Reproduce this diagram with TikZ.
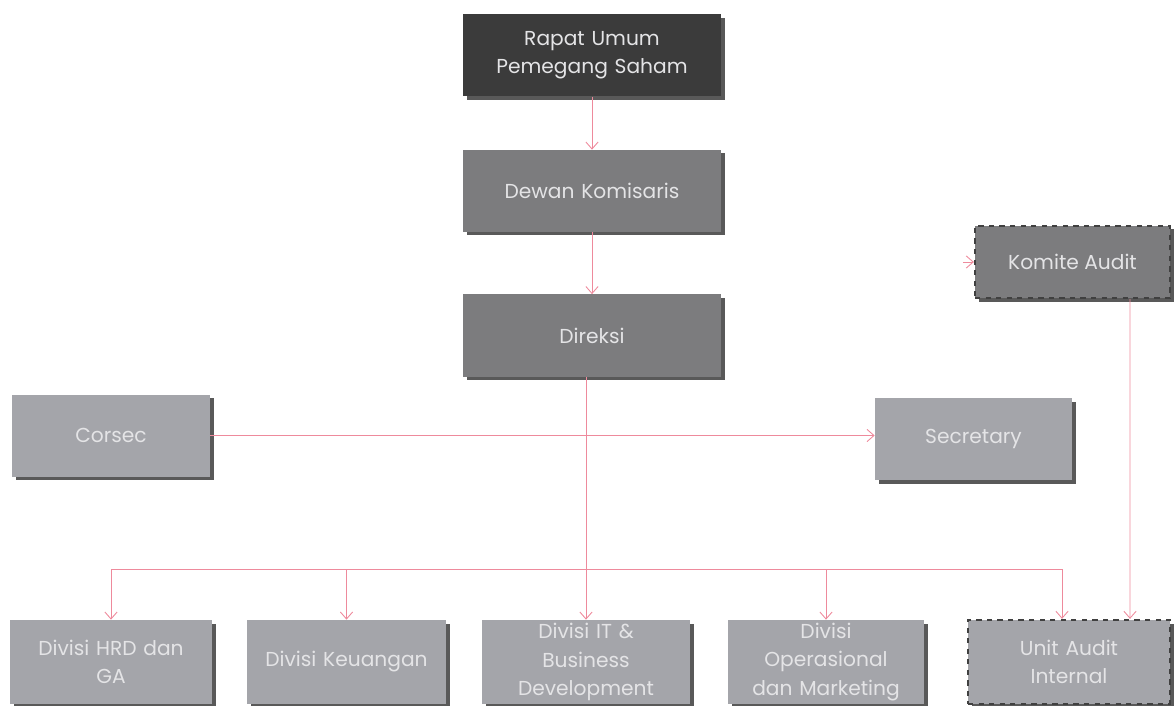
\documentclass[tikz,border=0pt]{standalone}
\usepackage{fontspec}
\setmainfont{Poppins}
\usetikzlibrary{shadows,arrows.meta}

\definecolor{rupsgray}{HTML}{3B3B3B}
\definecolor{midgray}{HTML}{7C7C7E}
\definecolor{lightgray}{HTML}{A4A5AA}
\definecolor{linkpink}{HTML}{EE8A9C}
\definecolor{labelwhite}{HTML}{E4E4E6}

\tikzset{
  >={Straight Barb[length=4pt,width=7pt]},
  unit/.style={inner sep=0pt, align=center, text=labelwhite,
    font=\fontsize{11.5}{16}\selectfont,
    drop shadow={shadow xshift=0.07cm, shadow yshift=-0.07cm, opacity=1, fill=black!65}},
  topbox/.style={unit, fill=midgray, minimum width=5.16cm, minimum height=1.64cm, text width=4.9cm},
  sidebox/.style={unit, fill=lightgray, minimum height=1.64cm},
  divbox/.style={unit, fill=lightgray, minimum height=1.68cm},
  auditbox/.style={draw=black!75, dashed, line width=1.3pt},
  link/.style={draw=linkpink, line width=0.5pt}
}

\begin{document}
\begin{tikzpicture}
  \useasboundingbox (0,0) rectangle (23.52,-14.12);

  % top of the structure
  \node[topbox, fill=rupsgray] (rups) at (11.84,-1.11) {Rapat Umum\\Pemegang Saham};
  \node[topbox] (dewan) at (11.84,-3.82) {Dewan Komisaris};
  \node[topbox] (direksi) at (11.84,-6.71) {Direksi};
  \node[unit, auditbox, fill=midgray, minimum width=3.9cm, minimum height=1.44cm] (komite) at (21.45,-5.24) {Komite Audit};

  % staff
  \node[sidebox, minimum width=3.96cm] (corsec) at (2.22,-8.71) {Corsec};
  \node[sidebox, minimum width=3.94cm] (secretary) at (19.47,-8.78) {Secretary};

  % divisions
  \node[divbox, minimum width=4.04cm, text width=3.7cm] (hrd) at (2.22,-13.24) {Divisi HRD dan\\GA};
  \node[divbox, minimum width=3.98cm, text width=3.8cm] (keuangan) at (6.93,-13.24) {Divisi Keuangan};
  \node[divbox, minimum width=4.16cm, text width=3.9cm] (it) at (11.72,-13.24) {Divisi IT \&\\Business\\Development};
  \node[divbox, minimum width=3.92cm, text width=3.8cm] (ops) at (16.52,-13.24) {Divisi\\Operasional\\dan Marketing};
  \node[divbox, auditbox, minimum width=4.04cm, text width=3.6cm] (uai) at (21.38,-13.24) {Unit Audit\\Internal};

  \coordinate (bus) at (0,-11.38);
  \coordinate (komiteIn) at ([xshift=-0.22cm]komite.west);

  \draw[link, ->] (rups) -- (dewan);
  \draw[link, ->] (dewan) -- (direksi);
  \draw[link, ->] (direksi.south -| it.north) -- (it.north);
  \draw[link, ->] (corsec.east) -- (corsec.east -| secretary.west);
  \draw[link, ->] (komiteIn) -- (komite.west);

  \draw[link] (bus -| hrd.north) -- ([xshift=-0.14cm]bus -| uai.north);
  \draw[link, ->] (bus -| hrd.north) -- (hrd.north);
  \draw[link, ->] (bus -| keuangan.north) -- (keuangan.north);
  \draw[link, ->] (bus -| ops.north) -- (ops.north);
  \draw[link, ->] ([xshift=-0.14cm]bus -| uai.north) -- ([xshift=-0.14cm]uai.north);
  \draw[link, ->] ([xshift=1.15cm]komite.south) -- ([xshift=1.22cm]uai.north);
\end{tikzpicture}
\end{document}
